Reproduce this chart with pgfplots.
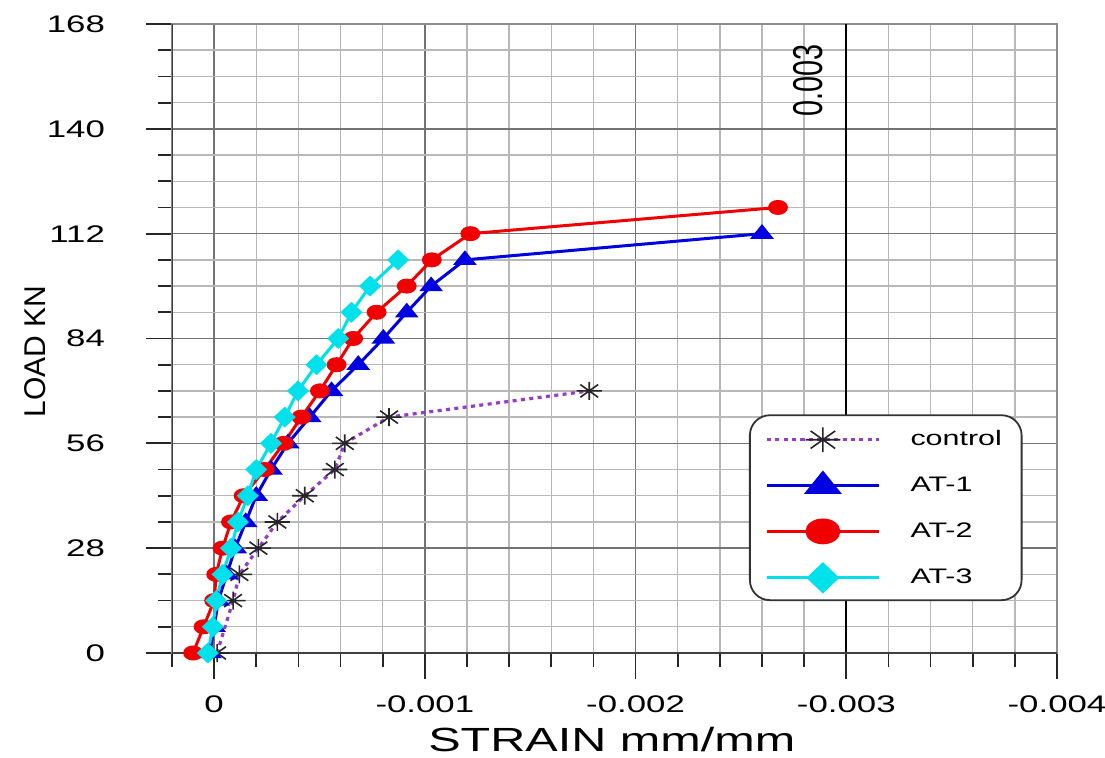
\documentclass[border=0pt]{standalone}
\usepackage{fontspec}
\setmainfont{Liberation Sans}[FakeStretch=1.45]
\newfontfamily\plainsf{Liberation Sans}
\usepackage{graphicx}
\usepackage{pgfplots}
\pgfplotsset{compat=1.18}

\definecolor{ctrl}{RGB}{150,60,200}
\definecolor{atone}{RGB}{0,0,225}
\definecolor{attwo}{RGB}{240,0,0}
\definecolor{atthree}{RGB}{0,225,235}

% eight-ray asterisk
\pgfdeclareplotmark{star8}{%
  \pgfpathmoveto{\pgfqpoint{0pt}{\pgfplotmarksize}}\pgfpathlineto{\pgfqpoint{0pt}{-\pgfplotmarksize}}%
  \pgfpathmoveto{\pgfqpoint{\pgfplotmarksize}{0pt}}\pgfpathlineto{\pgfqpoint{-\pgfplotmarksize}{0pt}}%
  \pgfpathmoveto{\pgfqpoint{.707\pgfplotmarksize}{.707\pgfplotmarksize}}\pgfpathlineto{\pgfqpoint{-.707\pgfplotmarksize}{-.707\pgfplotmarksize}}%
  \pgfpathmoveto{\pgfqpoint{-.707\pgfplotmarksize}{.707\pgfplotmarksize}}\pgfpathlineto{\pgfqpoint{.707\pgfplotmarksize}{-.707\pgfplotmarksize}}%
  \pgfusepathqstroke}

\begin{document}
\begin{tikzpicture}
\begin{axis}[
  scale only axis,
  width=442.5pt, height=314.5pt,
  x dir=reverse,
  xmin=-0.004, xmax=0.0002,
  ymin=0, ymax=168,
  scaled x ticks=false,
  xtick={0,-0.001,-0.002,-0.003,-0.004},
  xticklabels={0,-0.001,-0.002,-0.003,-0.004},
  minor xtick={0.0002,-0.0002,-0.0004,-0.0006,-0.0008,-0.0012,-0.0014,-0.0016,-0.0018,-0.0022,-0.0024,-0.0026,-0.0028,-0.0032,-0.0034,-0.0036,-0.0038},
  ytick={0,28,...,168},
  minor ytick={7,14,21,35,42,49,63,70,77,91,98,105,119,126,133,147,154,161},
  grid=both,
  major grid style={draw=black!55, line width=0.8pt},
  minor grid style={draw=black!28, line width=0.7pt},
  axis line style={draw=black!45, line width=0.8pt},
  tick align=outside, tick pos=left,
  major tick length=13pt, minor tick length=7pt,
  tick style={draw=black!85, line width=0.9pt},
  /pgf/number format/assume math mode=true,
  tick label style={font=\fontsize{12}{15}\selectfont},
  yticklabel style={xshift=-17pt},
  xticklabel style={yshift=-5pt},
  xlabel={STRAIN mm/mm},
  xlabel style={at={(rel axis cs:0.497,-0.1558)}, anchor=base, font=\fontsize{16.75}{20}\selectfont},
  ylabel={LOAD KN},
  ylabel style={at={(rel axis cs:-0.1548,0.479)}, anchor=center, font=\plainsf\fontsize{15}{18}\selectfont},
  legend cell align=left,
  legend style={at={(rel axis cs:0.653,0.2289)}, anchor=west, draw=none, fill=none,
    inner xsep=7.5pt, inner ysep=0pt, row sep=10pt,
    font=\fontsize{10.5}{12}\selectfont,
    /tikz/every odd column/.append style={column sep=13pt}},
  legend image code/.code={%
    \draw[mark repeat=2, mark phase=2, #1] plot coordinates {(0pt,0pt) (28pt,0pt) (56pt,0pt)};},
]
% reference strain line and legend frame
\draw[black, line width=1.2pt] (axis cs:-0.003,0) -- (axis cs:-0.003,168);
\node[rotate=90] at (axis cs:-0.00282,153) {\scalebox{1}[1.45]{\plainsf\fontsize{14.4}{16}\selectfont 0.003}};
\draw[black!80, line width=0.9pt, rounded corners=10pt, fill=white]
  (rel axis cs:0.653,0.378) rectangle (rel axis cs:0.960,0.084);
\draw[black!75, line width=1.4pt] (rel axis cs:0,1) -- (rel axis cs:0,0) -- (rel axis cs:1,0);
\coordinate (sw) at (rel axis cs:0,0);
\coordinate (ne) at (rel axis cs:1,1);

\addplot[ctrl, line width=1.6pt, dash pattern=on 2pt off 2.2pt,
  mark=star8, mark size=4.5pt, mark options={black!85, solid, line width=0.8pt, xscale=1.4},
  legend image post style={mark size=6.2pt}]
  coordinates {(-0.000014,0) (-0.00009,14) (-0.00012,21) (-0.00021,28) (-0.0003,35)
   (-0.00043,42) (-0.000573,49) (-0.00062,56) (-0.00083,63) (-0.00178,70)};
\addlegendentry{control}

\addplot[atone, line width=1.5pt, mark=triangle*, mark size=3.6pt,
  mark options={fill=atone, solid, xscale=1.4}, legend image post style={mark size=6.5pt}]
  coordinates {(0.00002,0) (0.0,7) (-0.00002,14) (-0.00006,21) (-0.0001,28) (-0.00015,35)
   (-0.0002,42) (-0.00027,49) (-0.00035,56) (-0.000454,63) (-0.000557,70) (-0.000684,77)
   (-0.000803,84) (-0.000914,91) (-0.00103,98) (-0.00119,105) (-0.0026,112)};
\addlegendentry{AT-1}

\addplot[attwo, line width=1.5pt, mark=*, mark size=3pt,
  mark options={fill=attwo, solid, xscale=1.4}, legend image post style={mark size=5.7pt}]
  coordinates {(0.0001,0) (0.00005,7) (0.0,14) (-0.00001,21) (-0.00004,28) (-0.00008,35)
   (-0.00014,42) (-0.00024,49) (-0.00033,56) (-0.000414,63) (-0.000502,70) (-0.000581,77)
   (-0.00066,84) (-0.000771,91) (-0.000914,98) (-0.001033,105) (-0.001216,112) (-0.002676,119)};
\addlegendentry{AT-2}

\addplot[atthree, line width=1.5pt, mark=diamond*, mark size=4.2pt,
  mark options={fill=atthree, solid, xscale=1.4}, legend image post style={mark size=6.8pt}]
  coordinates {(0.00003,0) (0.000006,7) (-0.00001,14) (-0.00004,21) (-0.00008,28) (-0.000113,35)
   (-0.00016,42) (-0.0002,49) (-0.00027,56) (-0.000335,63) (-0.000398,70) (-0.000486,77)
   (-0.000589,84) (-0.000652,91) (-0.00074,98) (-0.000873,105)};
\addlegendentry{AT-3}
\end{axis}
\pgfresetboundingbox
\path ([xshift=-86pt,yshift=-52.5pt]sw) rectangle ([xshift=24pt,yshift=12pt]ne);
\end{tikzpicture}
\end{document}
